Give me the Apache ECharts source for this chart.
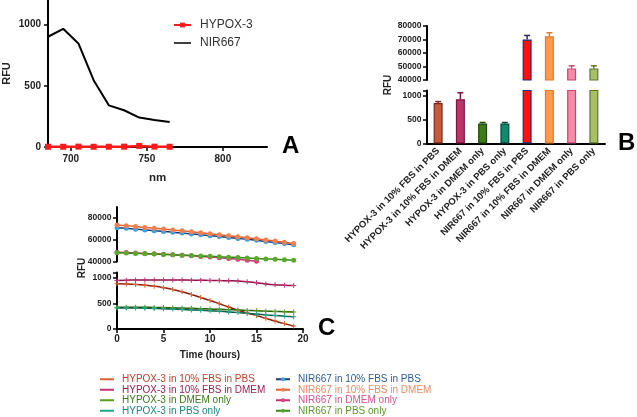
<!DOCTYPE html>
<html lang="en">
<head>
<meta charset="UTF-8">
<title>HYPOX-3 / NIR667 fluorescence</title>
<script src="https://cdn.jsdelivr.net/npm/echarts@6/dist/echarts.min.js"></script>
<style>
  html, body { margin: 0; padding: 0; background: #fff; }
  #main { width: 637px; height: 417px; }
</style>
</head>
<body>
<div id="main"></div>
<script>
// ---- panel A: emission spectra
var wavelengths = [685, 695, 705, 715, 725, 735, 745, 755, 765];
var hypoxSpectrum = [2, 2, 3, 2, 2, 3, 9, 3, 2];
var nirSpectrum = [900, 965, 845, 545, 340, 300, 240, 220, 205];

// ---- panel B: mean RFU per condition
var barNames = ['HYPOX-3 in 10% FBS in PBS', 'HYPOX-3 in 10% FBS in DMEM', 'HYPOX-3 in DMEM only',
  'HYPOX-3 in PBS only', 'NIR667 in 10% FBS in PBS', 'NIR667 in 10% FBS in DMEM',
  'NIR667 in DMEM only', 'NIR667 in PBS only'];
var barValues = [840, 918, 416, 416, 70000, 72400, 48600, 48600];
var barErrors = [30, 135, 20, 20, 3000, 2600, 1900, 1900];
var barFill = ['#c65a3c', '#b8366a', '#3d7a1a', '#0e8a6c', '#ff1010', '#ff9a48', '#f78aa8', '#a8bf68'];
var barEdge = ['#7a2a18', '#7e1440', '#1f4a0a', '#064a3a', '#2a2a6a', '#e07830', '#c04a70', '#5a7a2a'];

// ---- panel C: RFU over time
var hours = [0, 1, 2, 3, 4, 5, 6, 7, 8, 9, 10, 11, 12, 13, 14, 15, 16, 17, 18, 19];
var hypoxPbsFbs = [880, 875, 866, 852, 832, 805, 770, 725, 672, 615, 555, 492, 428, 365, 310, 262, 208, 155, 105, 60];
var hypoxDmemFbs = [945, 950, 953, 955, 955, 955, 954, 953, 951, 949, 946, 943, 939, 933, 922, 900, 878, 862, 852, 845];
var hypoxDmem = [425, 425, 424, 422, 420, 417, 413, 408, 402, 396, 390, 383, 376, 369, 362, 355, 348, 342, 336, 330];
var hypoxPbs = [410, 410, 408, 405, 400, 395, 388, 380, 372, 364, 355, 345, 333, 320, 305, 290, 275, 262, 250, 240];
var nirPbsFbs = [71000, 70400, 69700, 69000, 68300, 67600, 66800, 66100, 65300, 64500, 63700, 62900, 62000, 61200, 60300, 59400, 58400, 57400, 56400, 55300];
var nirDmemFbs = [73500, 72800, 72100, 71300, 70500, 69800, 68900, 68100, 67300, 66400, 65500, 64600, 63700, 62700, 61700, 60800, 59700, 58700, 57700, 56600];
var nirDmem = [48600, 48200, 47800, 47400, 47000, 46600, 46200, 45700, 45200, 44700, 44100, 43500, 42800, 42100, 41200, 40200];
var nirPbs = [48000, 47700, 47400, 47100, 46800, 46500, 46200, 45800, 45500, 45100, 44800, 44400, 44000, 43600, 43200, 42800, 42400, 42000, 41600, 41200];

var FONT = 'Liberation Sans';
var PLUS = 'path://M2,0H3V2H5V3H3V5H2V3H0V2H2Z';
// thin line icon; the corner specks keep the box 17x6 so the bar stays thin
var LINE_ICON = 'path://M0,0H0.05V0.05H0Z M0,2.2H17V3.8H0Z M16.95,5.95H17V6H16.95Z';

function pairs(xs, ys) {
  return ys.map(function (y, i) { return [xs[i], y]; });
}
function plain(v) { return String(v); }

function axisY(grid, min, max, ticks, labels, fs, margin) {
  return {
    type: 'value', gridIndex: grid, min: min, max: max,
    splitLine: { show: false },
    axisLine: { show: true, lineStyle: { color: '#000', width: 2 } },
    axisTick: { show: true, length: 4, lineStyle: { color: '#000', width: 1.5 }, customValues: ticks },
    axisLabel: { customValues: labels, formatter: plain, fontSize: fs, fontWeight: 'bold', color: '#222', margin: margin }
  };
}

// lower half of the broken axis in panel C: plain interval ticks, top cap unlabelled
function brokenLow(grid) {
  return {
    type: 'value', gridIndex: grid, min: 0, max: 1100, interval: 500,
    splitLine: { show: false },
    axisLine: { show: true, lineStyle: { color: '#000', width: 2 } },
    axisTick: { show: true, length: 4, lineStyle: { color: '#000', width: 1.5 } },
    axisLabel: {
      fontSize: 8.5, fontWeight: 'bold', color: '#222', margin: 5.5, showMaxLabel: true,
      formatter: function (v) { return v > 1000 ? '' : String(v); }
    }
  };
}

function errorItem(params, api) {
  var x = api.value(0), v = api.value(1), e = api.value(2);
  var p0 = api.coord([x, v]);
  var p1 = api.coord([x, v + e]);
  var c = api.visual('color');
  return {
    type: 'group',
    children: [
      { type: 'line', shape: { x1: p0[0], y1: p0[1], x2: p1[0], y2: p1[1] }, style: { stroke: c, lineWidth: 1.5 } },
      { type: 'line', shape: { x1: p1[0] - 3, y1: p1[1], x2: p1[0] + 3, y2: p1[1] }, style: { stroke: c, lineWidth: 1.5 } }
    ]
  };
}

function barData(keep) {
  return barValues.map(function (v, i) {
    return { value: keep(i) ? v : '-', itemStyle: { color: barFill[i], borderColor: barEdge[i], borderWidth: 1.2 } };
  });
}
function errData(keep) {
  var out = [];
  barValues.forEach(function (v, i) {
    if (keep(i)) out.push({ value: [i, v, barErrors[i]], itemStyle: { color: barEdge[i] } });
  });
  return out;
}
var isHypox = function (i) { return i < 4; };
var isNir = function (i) { return i >= 4; };

function timeLine(name, data, grid, line, mark, symbol) {
  return {
    type: 'line', name: name, xAxisIndex: grid, yAxisIndex: grid,
    data: pairs(hours, data), smooth: true,
    symbol: symbol, symbolSize: 5,
    lineStyle: { color: line, width: 1.5 },
    itemStyle: { color: mark }
  };
}

var chart = echarts.init(document.getElementById('main'));

var option = {
  animation: false,
  textStyle: { fontFamily: FONT },
  grid: [
    { left: 47, top: 0, width: 220, height: 147 },
    { left: 427, top: 26, width: 178, height: 54 },
    { left: 427, top: 90.5, width: 178, height: 53 },
    { left: 117, top: 207, width: 186, height: 54.5 },
    { left: 117, top: 272.5, width: 186, height: 56.5 }
  ],
  xAxis: [
    {
      type: 'value', gridIndex: 0, min: 685, max: 829,
      name: 'nm', nameLocation: 'middle', nameGap: 25,
      nameTextStyle: { fontSize: 11.5, fontWeight: 'bold', color: '#222' },
      splitLine: { show: false },
      axisLine: { lineStyle: { color: '#000', width: 2 } },
      axisTick: { length: 4, lineStyle: { color: '#000', width: 1.5 }, customValues: [700, 750, 800] },
      axisLabel: { customValues: [700, 750, 800], fontSize: 10, fontWeight: 'bold', color: '#222', margin: 7 }
    },
    { type: 'category', gridIndex: 1, data: barNames, show: false },
    {
      type: 'category', gridIndex: 2, data: barNames,
      axisLine: { lineStyle: { color: '#000', width: 2 } },
      axisTick: { alignWithLabel: true, length: 4, lineStyle: { color: '#000', width: 1.5 } },
      axisLabel: { rotate: 45, fontSize: 9.5, fontWeight: 'bold', color: '#222', margin: 6, interval: 0 }
    },
    { type: 'value', gridIndex: 3, min: 0, max: 20, show: false },
    {
      type: 'value', gridIndex: 4, min: 0, max: 20, interval: 5,
      name: 'Time (hours)', nameLocation: 'middle', nameGap: 21,
      nameTextStyle: { fontSize: 10, fontWeight: 'bold', color: '#222' },
      splitLine: { show: false },
      axisLine: { lineStyle: { color: '#000', width: 2 } },
      axisTick: { length: 4, lineStyle: { color: '#000', width: 1.5 } },
      axisLabel: { fontSize: 10, fontWeight: 'bold', color: '#222', margin: 5 }
    }
  ],
  yAxis: [
    Object.assign(axisY(0, 0, 1200, [0, 500, 1000], [0, 500, 1000], 10, 7), {
      name: 'RFU', nameLocation: 'middle', nameGap: 36,
      nameTextStyle: { fontSize: 11, fontWeight: 'bold', color: '#222' }
    }),
    axisY(1, 40000, 80000, [40000, 50000, 60000, 70000, 80000], [40000, 50000, 60000, 70000, 80000], 8.5, 5.5),
    axisY(2, 0, 1100, [0, 500, 1000, 1100], [0, 500, 1000], 8.5, 5.5),
    axisY(3, 40000, 90000, [40000, 60000, 80000], [40000, 60000, 80000], 8.5, 5.5),
    brokenLow(4)
  ],
  legend: [
    {
      orient: 'vertical', left: 173, top: 18, padding: 0, itemGap: 4,
      itemWidth: 17, itemHeight: 6,
      textStyle: { fontSize: 12, color: '#333', lineHeight: 14, padding: [0, 0, 0, 4] },
      data: ['HYPOX-3', { name: 'NIR667', icon: LINE_ICON }]
    },
    {
      orient: 'vertical', left: 100, top: 374, padding: 0, itemGap: 0,
      itemWidth: 14, itemHeight: 2, icon: 'rect',
      textStyle: { fontSize: 10, lineHeight: 10.5, padding: [0, 0, 0, 3] },
      data: [
        { name: 'HYPOX-3 in 10% FBS in PBS', textStyle: { color: '#c0402a' } },
        { name: 'HYPOX-3 in 10% FBS in DMEM', textStyle: { color: '#a02050' } },
        { name: 'HYPOX-3 in DMEM only', textStyle: { color: '#3a7a1a' } },
        { name: 'HYPOX-3 in PBS only', textStyle: { color: '#1a8a7a' } }
      ]
    },
    {
      orient: 'vertical', left: 275, top: 374, padding: 0, itemGap: 0,
      itemWidth: 14, itemHeight: 5,
      textStyle: { fontSize: 10, lineHeight: 10.5, padding: [0, 0, 0, 3] },
      data: [
        { name: 'NIR667 in 10% FBS in PBS', textStyle: { color: '#2f5a9a' } },
        { name: 'NIR667 in 10% FBS in DMEM', textStyle: { color: '#f08a60' } },
        { name: 'NIR667 in DMEM only', textStyle: { color: '#e0508a' } },
        { name: 'NIR667 in PBS only', textStyle: { color: '#5a9a2a' } }
      ]
    }
  ],
  graphic: [
    { type: 'text', left: 282, top: 134, style: { text: 'A', font: 'bold 24px ' + FONT, fill: '#000' } },
    { type: 'text', left: 618, top: 131, style: { text: 'B', font: 'bold 24px ' + FONT, fill: '#000' } },
    { type: 'text', left: 318, top: 316, style: { text: 'C', font: 'bold 24px ' + FONT, fill: '#000' } },
    { type: 'text', x: 388, y: 85, rotation: Math.PI / 2,
      style: { text: 'RFU', font: 'bold 10px ' + FONT, fill: '#222', align: 'center', verticalAlign: 'middle' } },
    { type: 'text', x: 82, y: 268, rotation: Math.PI / 2,
      style: { text: 'RFU', font: 'bold 10px ' + FONT, fill: '#222', align: 'center', verticalAlign: 'middle' } }
  ],
  series: [
    {
      type: 'line', name: 'NIR667', xAxisIndex: 0, yAxisIndex: 0,
      data: pairs(wavelengths, nirSpectrum), symbol: 'none',
      lineStyle: { color: '#000', width: 2 }, itemStyle: { color: '#000' }
    },
    {
      type: 'line', name: 'HYPOX-3', xAxisIndex: 0, yAxisIndex: 0,
      data: pairs(wavelengths, hypoxSpectrum), symbol: 'rect', symbolSize: 6,
      lineStyle: { color: '#ff1a1a', width: 2.5 }, itemStyle: { color: '#ff1a1a' }, z: 5
    },
    { type: 'bar', xAxisIndex: 1, yAxisIndex: 1, barWidth: 9, data: barData(isNir) },
    { type: 'bar', xAxisIndex: 2, yAxisIndex: 2, barWidth: 9, data: barData(function () { return true; }) },
    { type: 'custom', xAxisIndex: 1, yAxisIndex: 1, renderItem: errorItem, encode: { x: 0, y: 1 }, data: errData(isNir) },
    { type: 'custom', xAxisIndex: 2, yAxisIndex: 2, renderItem: errorItem, encode: { x: 0, y: 1 }, data: errData(isHypox) },
    timeLine('HYPOX-3 in 10% FBS in PBS', hypoxPbsFbs, 4, '#8b2010', '#e0602a', PLUS),
    timeLine('HYPOX-3 in 10% FBS in DMEM', hypoxDmemFbs, 4, '#8a1340', '#c8307a', PLUS),
    timeLine('HYPOX-3 in DMEM only', hypoxDmem, 4, '#2a5a10', '#5aa020', PLUS),
    timeLine('HYPOX-3 in PBS only', hypoxPbs, 4, '#0a5a4a', '#20a888', PLUS),
    timeLine('NIR667 in 10% FBS in PBS', nirPbsFbs, 3, '#1f3a70', '#3aa0e0', 'circle'),
    timeLine('NIR667 in 10% FBS in DMEM', nirDmemFbs, 3, '#e8602a', '#f08050', 'circle'),
    timeLine('NIR667 in DMEM only', nirDmem, 3, '#c8306a', '#e04080', 'circle'),
    timeLine('NIR667 in PBS only', nirPbs, 3, '#3a8a1a', '#5aaa2a', 'circle')
  ]
};

chart.setOption(option);
</script>
</body>
</html>
